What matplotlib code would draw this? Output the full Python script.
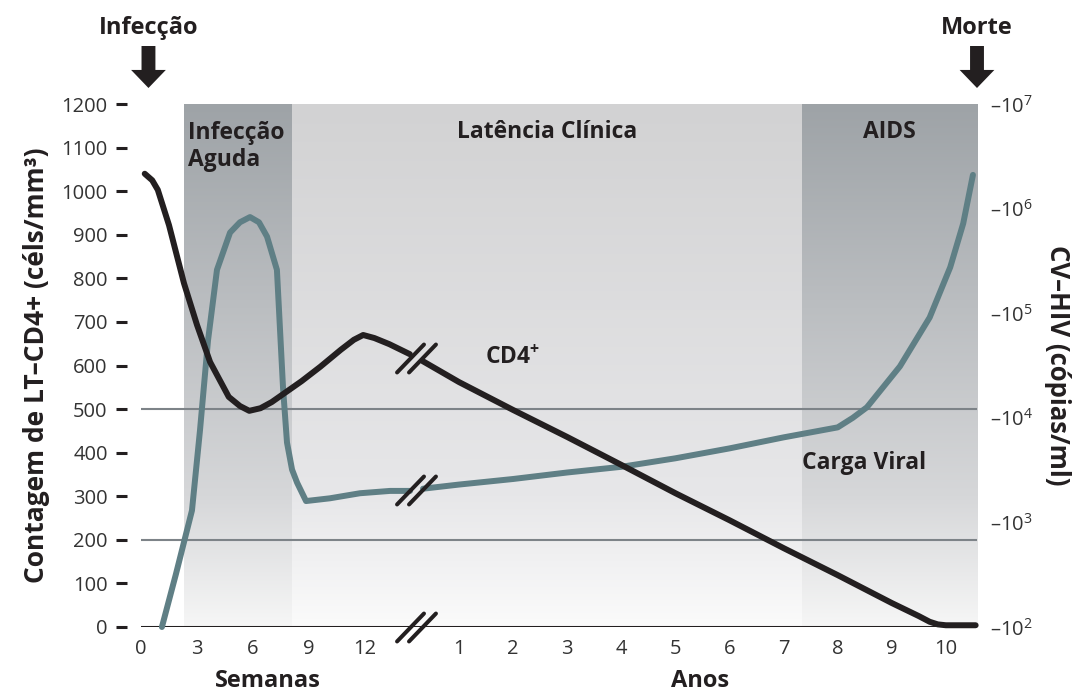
import numpy as np
import matplotlib
matplotlib.use('Agg')
from matplotlib import pyplot as plt
from matplotlib.colors import LinearSegmentedColormap
from matplotlib.path import Path
from matplotlib.markers import MarkerStyle
from matplotlib.transforms import blended_transform_factory

plt.rcParams['font.family'] = ['Open Sans', 'DejaVu Sans']
plt.rcParams['mathtext.fontset'] = 'custom'
plt.rcParams['mathtext.rm'] = 'Open Sans'
plt.rcParams['mathtext.bf'] = 'Open Sans:bold'

DARK = '#231f20'
TEAL = '#5f7f85'
GRID = '#7d8388'

# eixo x quebrado: semanas ate ~14, depois anos
WK = 0.3451   # largura de uma semana em unidades de "ano"
YR0 = 4.878   # posicao do ano 0 apos a quebra
X_END = 10.575  # ultimo ano mostrado (morte)

week_ticks = [0, 3, 6, 9, 12]
year_ticks = [1, 2, 3, 4, 5, 6, 7, 8, 9, 10]

# fases (unidade, valor)
phase_names = ['Infecção\nAguda', 'Latência Clínica', 'AIDS']
phase_start = [('w', 2.3), ('w', 8.1), ('a', 7.34)]
phase_end = [('w', 8.1), ('a', 7.34), ('a', X_END)]
phase_dark = [True, False, True]

# LT-CD4+ (celulas/mm3)
cd4_weeks = [0.2, 0.6, 0.9, 1.5, 2.3, 3.0, 3.7, 4.7, 5.3, 5.8, 6.4, 7.0, 8.6,
             9.6, 10.7, 11.4, 11.9, 12.5, 13.3, 14.4]
cd4_w_vals = [1040, 1025, 1003, 922, 789, 693, 608, 528, 507, 496, 502, 516, 564,
              597, 636, 659, 670, 663, 649, 626]
cd4_years = [0.33, 1, 2, 3, 4, 5, 6, 7, 8, 9, 9.5, 9.7, 9.85, 10.0, 10.55]
cd4_y_vals = [610, 562, 498, 436, 372, 307, 245, 181, 119, 55, 25, 12, 6, 4, 4]

# carga viral (copias/ml)
cv_weeks = [1.12, 1.87, 2.73, 3.16, 3.59, 4.07, 4.77, 5.30, 5.84, 6.32, 6.75,
            7.28, 7.61, 7.82, 8.09, 8.36, 8.84, 10.12, 11.73, 13.34, 14.41]
cv_w_vals = [1.0e2, 3.2e2, 1.3e3, 7.6e3, 5.5e4, 2.6e5, 5.9e5, 7.4e5, 8.3e5,
             7.4e5, 5.4e5, 2.6e5, 1.9e4, 5.8e3, 3.2e3, 2.4e3, 1.6e3, 1.7e3,
             1.9e3, 2.0e3, 2.0e3]
cv_years = [0.335, 1, 2, 3, 4, 5, 6, 7, 8, 8.28, 8.54, 9.15, 9.70, 10.08, 10.32, 10.50]
cv_y_vals = [2.1e3, 2.3e3, 2.6e3, 3.0e3, 3.4e3, 4.1e3, 5.1e3, 6.5e3, 8.1e3,
             1.0e4, 1.26e4, 3.1e4, 9.1e4, 2.75e5, 7.2e5, 2.1e6]

thresholds = [500, 200]
right_exps = [2, 3, 4, 5, 6, 7]


def pos(unit, v):
    v = np.asarray(v, dtype=float)
    return v * WK if unit == 'w' else YR0 + v


fig = plt.figure(figsize=(10.79, 6.95), dpi=100)
ax = fig.add_axes([141 / 1079, 68 / 695, 836 / 1079, 523 / 695])
xmax = float(pos('a', X_END))

# fundos em degrade
cm_dark = LinearSegmentedColormap.from_list('d', [(0, '#f6f6f6'), (0.25, '#d6d7d9'), (1, '#9ea3a7')])
cm_light = LinearSegmentedColormap.from_list('l', [(0, '#fbfbfb'), (0.25, '#e7e7e9'), (1, '#d2d2d3')])
grad = np.linspace(1, 0, 256)[:, None]
for name, s, e, dk in zip(phase_names, phase_start, phase_end, phase_dark):
    x0, x1 = float(pos(*s)), float(pos(*e))
    ax.imshow(grad, cmap=cm_dark if dk else cm_light, extent=[x0, x1, 0, 1200],
              aspect='auto', zorder=0, vmin=0, vmax=1)
    if '\n' in name:
        ax.text(x0 + 0.08, 1160, name, ha='left', va='top', fontsize=16.5,
                fontweight='bold', color=DARK, linespacing=1.12)
    else:
        ax.text((x0 + x1) / 2, 1136, name, ha='center', va='center', fontsize=16.5,
                fontweight='bold', color=DARK)

for t in thresholds:
    ax.axhline(t, color=GRID, lw=1.5, zorder=1)
ax.axhline(0, color=DARK, lw=2.2, zorder=2)

ax.set_xlim(0, xmax)
ax.set_ylim(0, 1200)
ax.set_yticks(range(0, 1201, 100))
ax.set_xticks(list(pos('w', week_ticks)) + list(pos('a', year_ticks)),
              [str(v) for v in week_ticks] + [str(v) for v in year_ticks])
for sp in ax.spines.values():
    sp.set_visible(False)
ax.spines['left'].set_position(('outward', 10))
ax.tick_params(axis='y', length=8, width=2.2, color=DARK, pad=6, labelsize=14.5,
               labelcolor='#333333')
ax.tick_params(axis='x', length=0, pad=9, labelsize=14.5, labelcolor='#333333')
ax.set_ylabel('Contagem de LT–CD4+ (céls/mm³)', fontsize=19, fontweight='bold',
              color=DARK, labelpad=8)

ax2 = ax.twinx()
ax2.set_yscale('log')
ax2.set_ylim(1e2, 1e7)
ax2.set_xlim(0, xmax)
for sp in ax2.spines.values():
    sp.set_visible(False)
ax2.set_yticks([10.0 ** k for k in right_exps],
               ['–$\\mathregular{10^{%d}}$' % k for k in right_exps])
ax2.minorticks_off()
ax2.tick_params(axis='y', length=0, pad=9, labelsize=14.5, labelcolor='#333333')
ax2.set_ylabel('CV–HIV (cópias/ml)', fontsize=18.5, fontweight='bold', color=DARK,
               rotation=270, labelpad=28)

# carga viral
lw = 4.3
ax2.plot(pos('w', cv_weeks), cv_w_vals, color=TEAL, lw=lw, solid_capstyle='round',
         solid_joinstyle='round', zorder=3, clip_on=False)
ax2.plot(pos('a', cv_years), cv_y_vals, color=TEAL, lw=lw, solid_capstyle='round',
         solid_joinstyle='round', zorder=3, clip_on=False)
# CD4 por cima
ax2.plot(pos('w', cd4_weeks), cd4_w_vals, color=DARK, lw=lw, solid_capstyle='round',
         solid_joinstyle='round', zorder=4, transform=ax.transData, clip_on=False)
ax2.plot(pos('a', cd4_years), cd4_y_vals, color=DARK, lw=lw, solid_capstyle='round',
         solid_joinstyle='round', zorder=4, transform=ax.transData, clip_on=False)

# marcas de quebra
brk = Path([(-19.5, -14), (7.5, 14), (-7.5, -14), (19.5, 14)],
           [Path.MOVETO, Path.LINETO, Path.MOVETO, Path.LINETO])
mk = MarkerStyle(brk, capstyle='round')
xb = (float(pos('w', cd4_weeks[-1])) + float(pos('a', cd4_years[0]))) / 2
mkw = dict(marker=mk, ms=28, mew=2.9, mec=DARK, mfc='none', ls='none', zorder=5, clip_on=False)
ax2.plot([xb], [0], transform=ax.transData, **mkw)
ax2.plot([xb], [(cd4_w_vals[-1] + cd4_y_vals[0]) / 2], transform=ax.transData, **mkw)
ax2.plot([xb], [np.sqrt(cv_w_vals[-1] * cv_y_vals[0])], **mkw)

# rotulos das curvas
ax.text(pos('a', 1.48), 617, 'CD4$^{\\mathbf{+}}$', fontsize=16.5, fontweight='bold',
        color=DARK, va='center', ha='left', zorder=6)
ax.text(pos('a', 7.34), 376, 'Carga Viral', fontsize=16.5, fontweight='bold',
        color=DARK, va='center', ha='left', zorder=6)

# eventos e unidades do eixo x
tr = blended_transform_factory(ax.transData, fig.transFigure)
events = [('Infecção', float(pos('w', 0.4))), ('Morte', xmax)]
for lab, xe in events:
    ax.text(xe, 667 / 695, lab, transform=tr, ha='center', va='center', fontsize=17,
            fontweight='bold', color=DARK)
    ax.annotate('', xy=(xe, 607), xytext=(xe, 649), xycoords=('data', 'figure pixels'),
                textcoords=('data', 'figure pixels'),
                arrowprops=dict(width=10, headwidth=25, headlength=13,
                                facecolor=DARK, edgecolor='none', shrink=0))
ax.text(pos('w', 6.8), 2 / 695, 'Semanas', transform=tr, ha='center', va='bottom',
        fontsize=17, fontweight='bold', color=DARK)
ax.text(pos('a', 5.45), 2 / 695, 'Anos', transform=tr, ha='center', va='bottom',
        fontsize=17, fontweight='bold', color=DARK)

fig.savefig('out.png', dpi=100)
